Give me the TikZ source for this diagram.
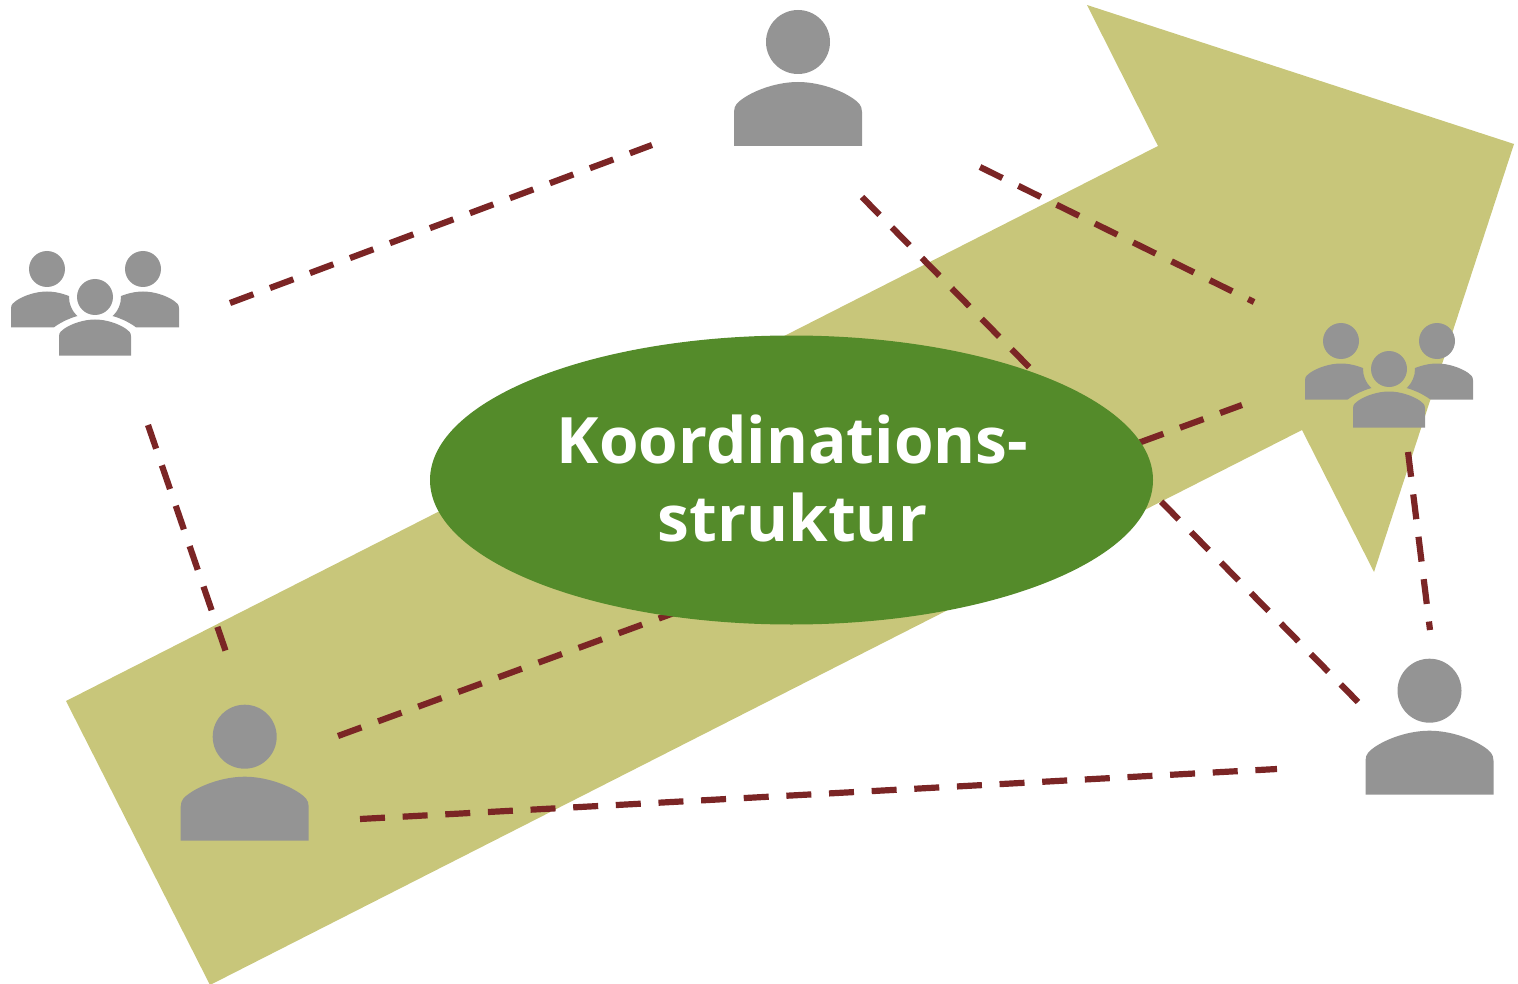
\documentclass[tikz,border=0pt]{standalone}
\usepackage{fontspec}
\setmainfont{Open Sans}
\usetikzlibrary{shapes.geometric}
\definecolor{arrowolive}{HTML}{C8C67A}
\definecolor{ovalgreen}{HTML}{548B2A}
\definecolor{icongray}{HTML}{949494}
\definecolor{linkred}{HTML}{7B2525}
\tikzset{
  iconfill/.style={fill=icongray,draw=none},
  link/.style={draw=linkred,line width=6.2pt,dash pattern=on 25pt off 17.7pt},
  oval/.style={ellipse,fill=ovalgreen,draw=none,minimum width=723pt,minimum height=289pt,inner sep=0pt},
  ovaltext/.style={text=white,align=center,inner sep=0pt,font=\bfseries\fontsize{64}{78}\selectfont},
}
\newcommand{\bodyshape}{(0,0) circle[radius=32]
  (-64,104) -- (-64,70) .. controls (-64,63) and (-60,60) .. (-55,56.5)
  .. controls (-42,47.5) and (-20,40) .. (0,40)
  .. controls (20,40) and (42,47.5) .. (55,56.5)
  .. controls (60,60) and (64,63) .. (64,70) -- (64,104) -- cycle}
\newcommand{\personicon}[3]{\fill[iconfill,shift={(#1,#2)},scale=#3] \bodyshape;}
\newcommand{\groupicon}[2]{%
  \begin{scope}[shift={(#1,#2)}]
    \begin{scope}[even odd rule]
      \clip (-200,-100) rectangle (200,200) (0,0) circle[radius=26];
      \clip (-200,-100) rectangle (200,200)
        (-44,60) -- (-42,31) .. controls (-33,24) and (-17,16.5) .. (0,16.5)
        .. controls (17,16.5) and (33,24) .. (42,31) -- (44,60) -- cycle;
      \personicon{-48}{-28}{0.5625}
      \personicon{48}{-28}{0.5625}
    \end{scope}
    \personicon{0}{0}{0.5625}
  \end{scope}}
\begin{document}
\begin{tikzpicture}[x=1pt,y=-1pt]
\useasboundingbox (0,0) rectangle (1518,984);
% arrow
\fill[arrowolive] (66,701) -- (1158,146) -- (1087,5) -- (1514,144) -- (1374,572) -- (1302,430) -- (210,985) -- cycle;
% link ends
\coordinate (a1) at (230,303); \coordinate (a2) at (652,145);
\coordinate (b1) at (148,425); \coordinate (b2) at (226,652);
\coordinate (c1) at (338,736); \coordinate (c2) at (1242,405);
\coordinate (d1) at (360,819); \coordinate (d2) at (1277,769);
\coordinate (e1) at (980,167); \coordinate (e2) at (1254,302);
\coordinate (f1) at (862,197); \coordinate (f2) at (1358,702);
\coordinate (g1) at (1408,452); \coordinate (g2) at (1430,630);
\draw[link] (a1) -- (a2);
\draw[link] (b1) -- (b2);
\draw[link] (c1) -- (c2);
\draw[link] (d1) -- (d2);
\draw[link] (e1) -- (e2);
\draw[link] (f1) -- (f2);
\draw[link] (g1) -- (g2);
% oval
\node[oval] (koord) at (791.5,480) {};
\node[ovaltext] (koordlabel) at (792.5,478) {Koordinations-\\struktur};
% icons
\personicon{798}{42}{1}
\personicon{244.7}{736.7}{1}
\personicon{1429.5}{690.7}{1}
\groupicon{95}{297}
\groupicon{1389}{369}
\end{tikzpicture}
\end{document}
